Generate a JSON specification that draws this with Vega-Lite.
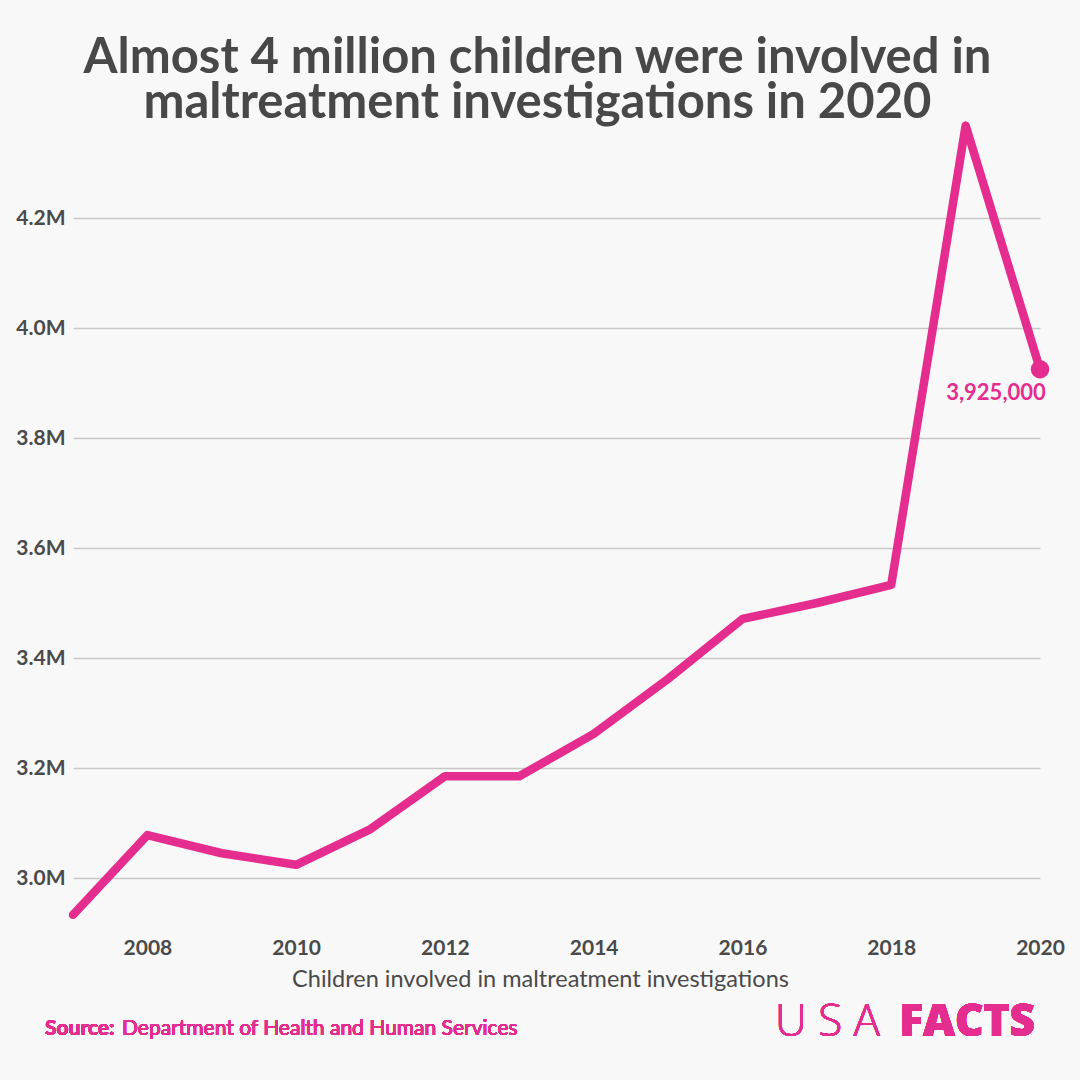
{
  "$schema": "https://vega.github.io/schema/vega-lite/v6.json",
  "autosize": {"type": "none"},
  "width": 967,
  "height": 814,
  "padding": {"left": 73, "top": 108, "right": 40, "bottom": 158},
  "background": "#f8f8f8",
  "config": {
    "font": "Lato",
    "view": {"stroke": null}
  },
  "title": {
    "text": ["Almost 4 million children were involved in", "maltreatment investigations in 2020"],
    "anchor": "middle",
    "frame": "group",
    "font": "Lato",
    "fontSize": 49,
    "fontWeight": "bold",
    "color": "#484848",
    "lineHeight": 45,
    "offset": 0,
    "dx": -19,
    "dy": 20
  },
  "data": {
    "values": [
      {"year": 2007, "children": 2933000},
      {"year": 2008, "children": 3078000},
      {"year": 2009, "children": 3045000},
      {"year": 2010, "children": 3024000},
      {"year": 2011, "children": 3089000},
      {"year": 2012, "children": 3185000},
      {"year": 2013, "children": 3185000},
      {"year": 2014, "children": 3262000},
      {"year": 2015, "children": 3362000},
      {"year": 2016, "children": 3471000},
      {"year": 2017, "children": 3500000},
      {"year": 2018, "children": 3533000},
      {"year": 2019, "children": 4368000},
      {"year": 2020, "children": 3925000}
    ]
  },
  "encoding": {
    "x": {
      "field": "year",
      "type": "quantitative",
      "scale": {"domain": [2007, 2020], "nice": false, "zero": false},
      "axis": {
        "values": [2008, 2010, 2012, 2014, 2016, 2018, 2020],
        "format": "d",
        "grid": false,
        "domain": false,
        "ticks": false,
        "labelFont": "Lato",
        "labelFontSize": 21,
        "labelFontWeight": "bold",
        "labelColor": "#4a4a4a",
        "labelPadding": 15,
        "labelFlush": false,
        "title": "Children involved in maltreatment investigations",
        "titleFont": "Lato",
        "titleFontSize": 23.5,
        "titleFontWeight": "normal",
        "titleColor": "#4a4a4a",
        "titlePadding": 9,
        "titleX": 467,
        "titleAnchor": "middle"
      }
    },
    "y": {
      "field": "children",
      "type": "quantitative",
      "scale": {"domain": [2920000, 4400000], "nice": false, "zero": false},
      "axis": {
        "values": [3000000, 3200000, 3400000, 3600000, 3800000, 4000000, 4200000],
        "labelExpr": "format(datum.value / 1000000, '.1f') + 'M'",
        "domain": false,
        "ticks": false,
        "grid": true,
        "gridColor": "#c8c8c8",
        "gridWidth": 1.5,
        "labelFont": "Lato",
        "labelFontSize": 21,
        "labelFontWeight": "bold",
        "labelColor": "#4a4a4a",
        "labelPadding": 8,
        "title": null
      }
    }
  },
  "layer": [
    {
      "mark": {"type": "line", "color": "#e52d8f", "strokeWidth": 8.5, "strokeJoin": "round", "strokeCap": "round", "clip": false}
    },
    {
      "transform": [{"filter": "datum.year === 2020"}],
      "mark": {"type": "point", "filled": true, "color": "#e52d8f", "size": 340, "opacity": 1}
    },
    {
      "transform": [{"filter": "datum.year === 2020"}],
      "mark": {"type": "text", "color": "#e52d8f", "font": "Lato", "fontSize": 22, "fontWeight": "bold", "align": "center", "baseline": "alphabetic", "dx": -44, "dy": 31},
      "encoding": {"text": {"field": "children", "type": "quantitative", "format": ","}}
    },
    {
      "mark": {"type": "text", "text": "Source:", "color": "#e52d8f", "font": "Lato", "fontSize": 21, "fontWeight": "bold", "align": "left", "baseline": "alphabetic", "dx": -28, "dy": 113},
      "encoding": {"x": {"datum": 2007}, "y": {"datum": 2920000}}
    },
    {
      "mark": {"type": "text", "text": "Department of Health and Human Services", "color": "#e52d8f", "font": "Lato", "fontSize": 21, "fontWeight": "normal", "align": "left", "baseline": "alphabetic", "dx": 49, "dy": 113},
      "encoding": {"x": {"datum": 2007}, "y": {"datum": 2920000}}
    },
    {
      "mark": {"type": "text", "text": "U S A", "color": "#e52d8f", "font": "Open Sans", "fontSize": 44, "fontWeight": 300, "align": "right", "baseline": "alphabetic", "dx": -160, "dy": 114},
      "encoding": {"x": {"datum": 2020}, "y": {"datum": 2920000}}
    },
    {
      "mark": {"type": "text", "text": "FACTS", "color": "#e52d8f", "font": "Open Sans", "fontSize": 44, "fontWeight": 800, "align": "right", "baseline": "alphabetic", "dx": -5, "dy": 114},
      "encoding": {"x": {"datum": 2020}, "y": {"datum": 2920000}}
    }
  ]
}
